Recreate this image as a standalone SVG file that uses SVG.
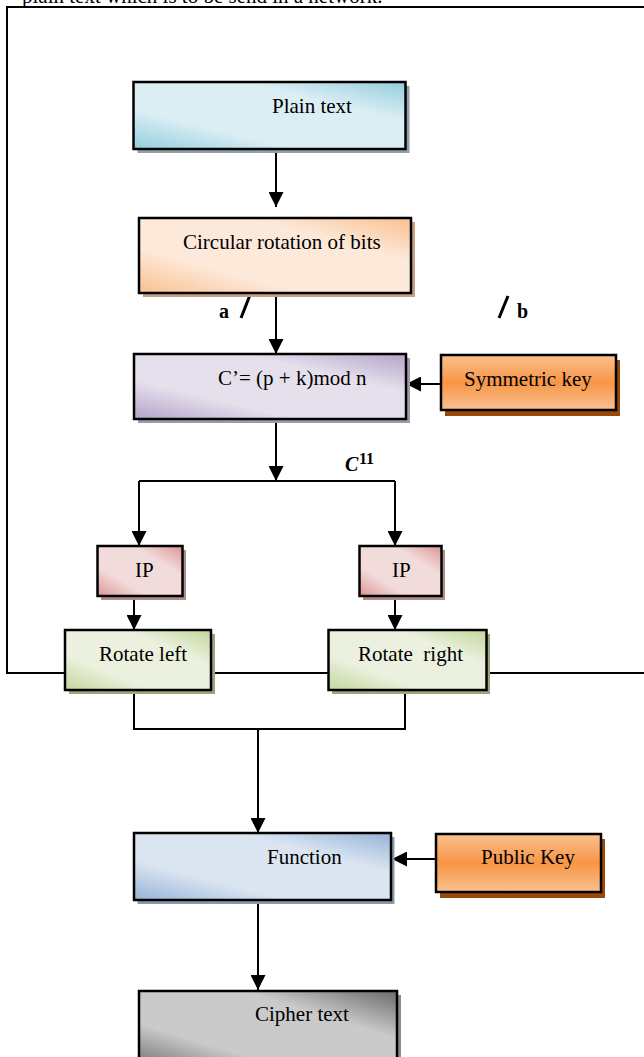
<svg xmlns="http://www.w3.org/2000/svg" width="644" height="1057" viewBox="0 0 644 1057">
<style>
.box{stroke:#000;stroke-width:2.5}
.t{font-family:"Liberation Serif","Times New Roman",serif;font-size:21px;fill:#000}
.b{font-family:"Liberation Serif","Times New Roman",serif;font-size:20px;font-weight:bold;fill:#000}
.ln{fill:none;stroke:#000;stroke-width:2}
.arr{fill:none;stroke:#000;stroke-width:2;marker-end:url(#ah)}
</style>
<defs>
<marker id="ah" viewBox="0 0 10 10" refX="10" refY="5" markerWidth="15" markerHeight="15" markerUnits="userSpaceOnUse" orient="auto">
<path d="M0,0 L10,5 L0,10 z" fill="#000"/>
</marker>
<linearGradient id="gBlue" x1="0" y1="1" x2="1" y2="0"><stop offset="0" stop-color="#93cddd"/><stop offset="0.3" stop-color="#dbeef4"/><stop offset="0.7" stop-color="#dbeef4"/><stop offset="1" stop-color="#93cddd"/></linearGradient>
<linearGradient id="gPeach" x1="0" y1="1" x2="1" y2="0"><stop offset="0" stop-color="#fac090"/><stop offset="0.3" stop-color="#fde9d9"/><stop offset="0.7" stop-color="#fde9d9"/><stop offset="1" stop-color="#fac090"/></linearGradient>
<linearGradient id="gPurple" x1="0" y1="1" x2="1" y2="0"><stop offset="0" stop-color="#b3a2c7"/><stop offset="0.3" stop-color="#e5e0ec"/><stop offset="0.7" stop-color="#e5e0ec"/><stop offset="1" stop-color="#b3a2c7"/></linearGradient>
<linearGradient id="gOrange" x1="0" y1="0" x2="0" y2="1"><stop offset="0" stop-color="#fac090"/><stop offset="0.5" stop-color="#f79646"/><stop offset="1" stop-color="#fac090"/></linearGradient>
<linearGradient id="gRed" x1="0" y1="1" x2="1" y2="0"><stop offset="0" stop-color="#d99694"/><stop offset="0.3" stop-color="#f2dcdb"/><stop offset="0.7" stop-color="#f2dcdb"/><stop offset="1" stop-color="#d99694"/></linearGradient>
<linearGradient id="gGreen" x1="0" y1="1" x2="1" y2="0"><stop offset="0" stop-color="#c3d69b"/><stop offset="0.3" stop-color="#ebf1de"/><stop offset="0.7" stop-color="#ebf1de"/><stop offset="1" stop-color="#c3d69b"/></linearGradient>
<linearGradient id="gSteel" x1="0" y1="1" x2="1" y2="0"><stop offset="0" stop-color="#95b3d7"/><stop offset="0.3" stop-color="#dbe5f1"/><stop offset="0.7" stop-color="#dbe5f1"/><stop offset="1" stop-color="#95b3d7"/></linearGradient>
<linearGradient id="gGray" x1="0" y1="1" x2="1" y2="0"><stop offset="0" stop-color="#6a6a6a"/><stop offset="0.3" stop-color="#cacaca"/><stop offset="0.7" stop-color="#cacaca"/><stop offset="1" stop-color="#6a6a6a"/></linearGradient>
</defs>
<rect width="644" height="1057" fill="#fff"/>
<text class="t" x="22" y="2.5">plain text which is to be send in a network.</text>

<g id="connectors">
<path class="ln" d="M644,7 H7 V673 H65 M211,673 H328 M487,673 H644"/>
<path class="arr" d="M276,149 V207"/>
<path class="arr" d="M276,293 V354"/>
<path class="arr" d="M441,384 H406"/>
<path class="arr" d="M276,419 V481"/>
<path class="ln" d="M139,481 H395"/>
<path class="arr" d="M139,481 V546"/>
<path class="arr" d="M395,481 V546"/>
<path class="arr" d="M134,596 V630"/>
<path class="arr" d="M395,596 V630"/>
<path class="ln" d="M134,690 V729 H405 V690"/>
<path class="arr" d="M258,729 V833"/>
<path class="arr" d="M436,859 H392"/>
<path class="arr" d="M258,900 V990"/>
<line x1="250" y1="295" x2="241" y2="318" stroke="#000" stroke-width="3"/>
<line x1="508" y1="296" x2="499" y2="318" stroke="#000" stroke-width="3"/>
<text class="b" x="219" y="318">a</text>
<text class="b" x="517" y="318">b</text>
<text x="345" y="471" font-family="'Liberation Serif',serif" font-style="italic" font-weight="bold" font-size="20">C</text>
<text x="359" y="464" font-family="'Liberation Serif',serif" font-weight="bold" font-size="16">11</text>
</g>

<g id="plain">
<rect x="137.5" y="86" width="272" height="67" fill="#8da1aa"/>
<rect class="box" x="133.5" y="82" width="272" height="67" fill="url(#gBlue)"/>
<text class="t" x="272" y="113">Plain text</text>
</g>
<g id="circular">
<rect x="143" y="222" width="272" height="75" fill="#c8a184"/>
<rect class="box" x="139" y="218" width="272" height="75" fill="url(#gPeach)"/>
<text class="t" x="183" y="249">Circular rotation of bits</text>
</g>
<g id="cprime">
<rect x="138" y="358" width="272" height="65" fill="#a09aa8"/>
<rect class="box" x="134" y="354" width="272" height="65" fill="url(#gPurple)"/>
<text class="t" x="218" y="385">C’= (p + k)mod n</text>
</g>
<g id="symkey">
<rect x="445" y="360" width="175" height="56" fill="#984807"/>
<rect class="box" x="441" y="355" width="175" height="55" fill="url(#gOrange)"/>
<text class="t" x="464" y="386">Symmetric key</text>
</g>
<g id="ipL">
<rect x="101" y="550" width="85" height="50" fill="#b08c8c"/>
<rect class="box" x="97.5" y="546" width="85" height="50" fill="url(#gRed)"/>
<text class="t" x="135" y="577">IP</text>
</g>
<g id="ipR">
<rect x="363" y="550" width="82" height="50" fill="#b08c8c"/>
<rect class="box" x="359.5" y="546" width="82" height="50" fill="url(#gRed)"/>
<text class="t" x="392" y="577">IP</text>
</g>
<g id="rotL">
<rect x="69" y="634" width="146" height="60" fill="#9aa67e"/>
<rect class="box" x="65" y="630" width="146" height="60" fill="url(#gGreen)"/>
<text class="t" x="99" y="661">Rotate left</text>
</g>
<g id="rotR">
<rect x="332" y="634" width="158" height="60" fill="#9aa67e"/>
<rect class="box" x="328.5" y="630" width="158" height="60" fill="url(#gGreen)"/>
<text class="t" x="358" y="661" xml:space="preserve">Rotate  right</text>
</g>
<g id="function">
<rect x="137.5" y="837" width="257" height="67" fill="#8a9aad"/>
<rect class="box" x="134" y="833" width="257" height="67" fill="url(#gSteel)"/>
<text class="t" x="267" y="864">Function</text>
</g>
<g id="pubkey">
<rect x="440" y="839" width="165" height="59" fill="#984807"/>
<rect class="box" x="436" y="834" width="165" height="58" fill="url(#gOrange)"/>
<text class="t" x="481" y="864">Public Key</text>
</g>
<g id="cipher">
<rect x="143" y="995" width="258" height="80" fill="#8a8a8a"/>
<rect class="box" x="139" y="991" width="258" height="80" fill="url(#gGray)"/>
<text class="t" x="255" y="1021">Cipher text</text>
</g>
</svg>
